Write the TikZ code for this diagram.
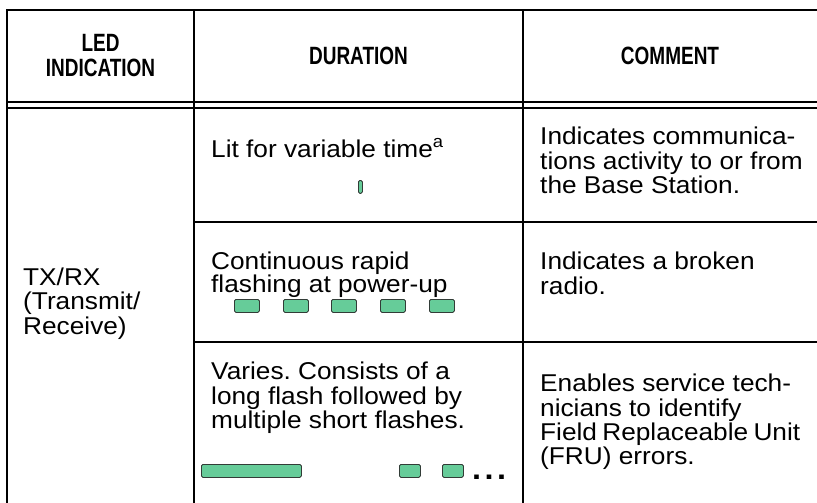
\documentclass[tikz,border=0pt]{standalone}
\usepackage{fontspec}
\setmainfont{Liberation Sans}
\newfontfamily\hdrfont[FakeStretch=0.76]{Liberation Sans}
\newfontfamily\bodyfont[FakeStretch=1.08]{Liberation Sans}
\definecolor{ledgreen}{RGB}{102,204,153}
\definecolor{ledline}{RGB}{50,60,55}
\frenchspacing
\begin{document}
\begin{tikzpicture}[x=1pt,y=-1pt,
  rule/.style={line width=2pt, black},
  hdr/.style={font=\hdrfont\bfseries\fontsize{25}{24}\selectfont, anchor=base, inner sep=0pt},
  body/.style={font=\bodyfont\fontsize{24.3}{24}\selectfont, anchor=base west, inner sep=0pt},
  led/.style={draw=ledline, fill=ledgreen, line width=0.8pt, rounded corners=1.5pt, inner sep=0pt, anchor=north west},
  dotsty/.style={font=\bodyfont\bfseries\fontsize{30}{30}\selectfont, anchor=base west, inner sep=0pt},
]
\useasboundingbox (0,0) rectangle (817,503);
% table rules
\draw[rule] (817,10) -- (7,10) -- (7,503);
\draw[rule] (194,10) -- (194,503);
\draw[rule] (523,10) -- (523,503);
\draw[rule] (7,102) -- (817,102);
\draw[rule] (7,108) -- (817,108);
\draw[rule] (194,222) -- (817,222);
\draw[rule] (194,342) -- (817,342);
% header
\node[hdr] (h1a) at (100.5,52) {LED};
\node[hdr] (h1b) at (100.5,77) {INDICATION};
\node[hdr] (h2) at (358.5,65) {DURATION};
\node[hdr] (h3) at (670,65) {COMMENT};
% column 1
\node[body] (t1) at (23,285) {TX/RX};
\node[body] (t2) at (23,309) {(Transmit/};
\node[body] (t3) at (23,334) {Receive)};
% row 1
\node[body] (d1) at (211,157) {Lit for variable time\textsuperscript{a}};
\node[led, minimum width=4pt, minimum height=13pt] (k1) at (358,180) {};
\node[body] (c1a) at (540,144) {Indicates communica-};
\node[body] (c1b) at (540,169) {tions activity to or from};
\node[body] (c1c) at (540,193) {the Base Station.};
% row 2
\node[body] (d2a) at (211,269) {Continuous rapid};
\node[body] (d2b) at (211,292) {flashing at power-up};
\node[led, minimum width=25pt, minimum height=13pt] (r2a) at (234,299) {};
\node[led, minimum width=25pt, minimum height=13pt] (r2b) at (283,299) {};
\node[led, minimum width=25pt, minimum height=13pt] (r2c) at (331,299) {};
\node[led, minimum width=25pt, minimum height=13pt] (r2d) at (380,299) {};
\node[led, minimum width=25pt, minimum height=13pt] (r2e) at (429,299) {};
\node[body] (c2a) at (540,269) {Indicates a broken};
\node[body] (c2b) at (540,294) {radio.};
% row 3
\node[body] (d3a) at (211,379) {Varies. Consists of a};
\node[body] (d3b) at (211,404) {long flash followed by};
\node[body] (d3c) at (211,428) {multiple short flashes.};
\node[led, minimum width=100pt, minimum height=13pt] (r3a) at (201,464) {};
\node[led, minimum width=21pt, minimum height=13pt] (r3b) at (399,464) {};
\node[led, minimum width=21pt, minimum height=13pt] (r3c) at (442,464) {};
\node[dotsty] (r3d) at (472,479) {.\kern3.5pt.\kern3.5pt.};
\node[body] (c3a) at (540,391) {Enables service tech-};
\node[body] (c3b) at (540,416) {nicians to identify};
\node[body] (c3c) at (540,440) {Field\kern-2pt\ Replaceable\kern-2pt\ Unit};
\node[body] (c3d) at (540,464) {(FRU) errors.};
\end{tikzpicture}
\end{document}
